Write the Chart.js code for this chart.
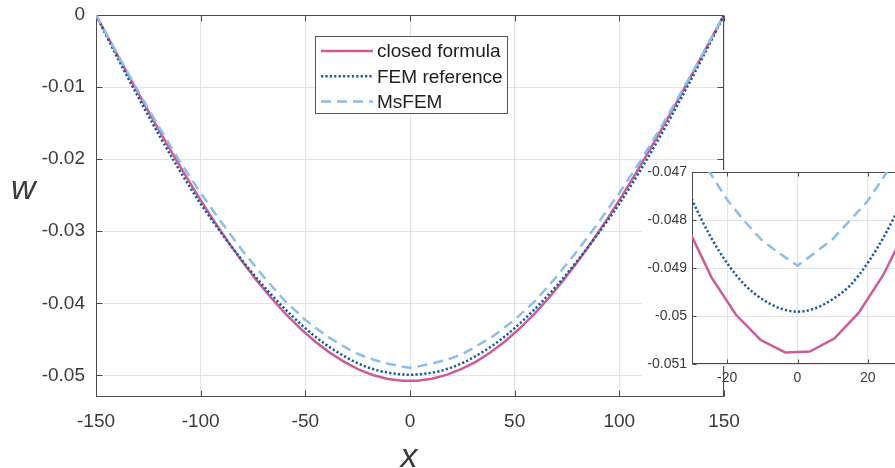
<!DOCTYPE html>
<html><head><meta charset="utf-8">
<script src="https://cdn.jsdelivr.net/npm/chart.js@4/dist/chart.umd.min.js"></script>
<style>
html,body{margin:0;padding:0;background:#fff;overflow:hidden;width:895px;height:468px;}
#wrap{position:relative;width:895px;height:468px;overflow:hidden;}
#main{position:absolute;left:0;top:0;width:895px;height:468px;}
#inset{position:absolute;left:630px;top:150px;width:300px;height:260px;}
</style></head><body>
<div id="wrap"><canvas id="main" width="895" height="468"></canvas><canvas id="inset" width="300" height="260"></canvas></div>
<script>
// ---- data ----
const seriesLabels = ['closed formula', 'FEM reference', 'MsFEM'];

const closedX = [-150, -143.02, -136.05, -129.07, -122.09, -115.12, -108.14, -101.16, -94.19, -87.21, -80.23,
  -73.26, -66.28, -59.30, -52.33, -45.35, -38.37, -31.40, -24.42, -17.44, -10.47, -3.49,
  3.49, 10.47, 17.44, 24.42, 31.40, 38.37, 45.35, 52.33, 59.30, 66.28, 73.26, 80.23, 87.21, 94.19,
  101.16, 108.14, 115.12, 122.09, 129.07, 136.05, 143.02, 150];
const closedW = [0, -0.00378, -0.00753, -0.01123, -0.01487, -0.01841, -0.02185, -0.02517, -0.02833, -0.03134, -0.03418,
  -0.03682, -0.03927, -0.04150, -0.04351, -0.04530, -0.04684, -0.04813, -0.04920, -0.04998, -0.05050, -0.05076,
  -0.05074, -0.05047, -0.04993, -0.04914, -0.04812, -0.04683, -0.04529, -0.04350, -0.04149, -0.03926, -0.03681,
  -0.03417, -0.03133, -0.02832, -0.02516, -0.02184, -0.01840, -0.01486, -0.01122, -0.00752, -0.00377, 0];

const femX = [-150, -140, -130, -120, -110, -100, -90, -80, -70, -60, -50, -40, -30, -25, -20, -15, -10, -5, 0,
  5, 10, 15, 20, 25, 30, 40, 50, 60, 70, 80, 90, 100, 110, 120, 130, 140, 150];
const femW = [0, -0.00580, -0.01130, -0.01660, -0.02160, -0.02620, -0.03030, -0.03410, -0.03760, -0.04070, -0.04347,
  -0.04577, -0.04757, -0.04831, -0.04890, -0.04935, -0.04965, -0.04984, -0.04991,
  -0.04984, -0.04965, -0.04936, -0.04889, -0.04829, -0.04755, -0.04575, -0.04345, -0.04068, -0.03758, -0.03408,
  -0.03028, -0.02618, -0.02158, -0.01658, -0.01128, -0.00578, 0];

const msfemX = [-150, -140, -130, -120, -110, -100, -90, -80, -70, -60, -50, -40, -30, -25, -20, -15, -10, -5, 0,
  5, 10, 15, 20, 25, 30, 40, 50, 60, 70, 80, 90, 100, 110, 120, 130, 140, 150];
const msfemW = [0, -0.0053, -0.0105, -0.0155, -0.0203, -0.0247, -0.0288, -0.0327, -0.0363, -0.0396, -0.0423,
  -0.0445, -0.04626, -0.04700, -0.04758, -0.04803, -0.04843, -0.04870, -0.04895,
  -0.04868, -0.04840, -0.04800, -0.04760, -0.04705, -0.04626, -0.0445, -0.0423, -0.0396, -0.0363, -0.0327,
  -0.0288, -0.0247, -0.0203, -0.0155, -0.0105, -0.0053, 0];

const mainXTicks = [-150, -100, -50, 0, 50, 100, 150];
const mainYTicks = [0, -0.01, -0.02, -0.03, -0.04, -0.05];
const insetXTicks = [-20, 0, 20];
const insetYTicks = [-0.047, -0.048, -0.049, -0.05, -0.051];

// ---- styling ----
const FONT = '"Liberation Sans", Arial, Helvetica, sans-serif';
const TXT = '#3a3a3a';
const AX = '#4a4a4a';
const GRID = '#e4e4e4';
const COLORS = ['#cd5c96', '#145aa0', '#8cbeeb'];

function pts(xs, ys) { return xs.map((x, i) => ({x: x, y: ys[i]})); }
function fmt(v) { return String(parseFloat(Number(v).toFixed(4))); }

function makeDatasets() {
  return [
    {label: seriesLabels[0], data: pts(closedX, closedW), borderColor: COLORS[0], borderWidth: 2.5,
     pointRadius: 0, tension: 0, order: 3, borderCapStyle: 'butt'},
    {label: seriesLabels[1], data: pts(femX, femW), borderColor: COLORS[1], borderWidth: 2.5,
     borderDash: [2.2, 2.2], pointRadius: 0, cubicInterpolationMode: 'monotone', order: 2, borderCapStyle: 'butt'},
    {label: seriesLabels[2], data: pts(msfemX, msfemW), borderColor: COLORS[2], borderWidth: 2.5,
     borderDash: [10, 6], pointRadius: 0, tension: 0, order: 1, borderCapStyle: 'butt'}
  ];
}

const boxPlugin = {
  id: 'box',
  beforeDraw(chart, args, o) {
    if (o.bg) {
      const ctx = chart.ctx;
      ctx.save(); ctx.fillStyle = '#fff';
      o.bg.forEach(r => ctx.fillRect(r[0], r[1], r[2], r[3]));
      ctx.restore();
    }
  },
  beforeDatasetsDraw(chart, args, o) {
    const ctx = chart.ctx, a = chart.chartArea, L = o.len || 5;
    const l = Math.round(a.left) + 0.5, r = Math.round(a.right) - 0.5;
    const t = Math.round(a.top) + 0.5, b = Math.round(a.bottom) - 0.5;
    ctx.save();
    ctx.strokeStyle = AX; ctx.lineWidth = 1;
    ctx.strokeRect(l, t, r - l, b - t);
    const xs = chart.scales.x, ys = chart.scales.y;
    ctx.beginPath();
    xs.ticks.forEach(tk => {
      const px = Math.round(xs.getPixelForValue(tk.value)) + 0.5;
      ctx.moveTo(px, b); ctx.lineTo(px, b - L);
      ctx.moveTo(px, t); ctx.lineTo(px, t + L);
    });
    ys.ticks.forEach(tk => {
      const py = Math.round(ys.getPixelForValue(tk.value)) + 0.5;
      ctx.moveTo(l, py); ctx.lineTo(l + L, py);
      ctx.moveTo(r, py); ctx.lineTo(r - L, py);
    });
    ctx.stroke();
    ctx.restore();
  }
};

const titlePlugin = {
  id: 'titles',
  afterDraw(chart) {
    const ctx = chart.ctx, a = chart.chartArea;
    ctx.save();
    ctx.fillStyle = TXT;
    ctx.font = 'italic 34px ' + FONT;
    ctx.textBaseline = 'alphabetic';
    ctx.textAlign = 'left';
    ctx.fillText('w', 11, 199);
    ctx.textAlign = 'center';
    ctx.fillText('x', (a.left + a.right) / 2 - 1, 467);
    ctx.restore();
  }
};

const legendPlugin = {
  id: 'lg',
  afterDraw(chart, args, o) {
    const ctx = chart.ctx;
    ctx.save();
    ctx.fillStyle = '#fff';
    ctx.fillRect(o.x, o.y, o.w, o.h);
    ctx.strokeStyle = '#555'; ctx.lineWidth = 1;
    ctx.strokeRect(o.x + 0.5, o.y + 0.5, o.w - 1, o.h - 1);
    chart.data.datasets.forEach((ds, i) => {
      const cy = o.y + o.first + i * o.step;
      ctx.strokeStyle = ds.borderColor; ctx.lineWidth = ds.borderWidth;
      ctx.lineCap = 'butt';
      ctx.setLineDash(ds.borderDash || []);
      ctx.beginPath(); ctx.moveTo(o.x + o.lx0, cy); ctx.lineTo(o.x + o.lx1, cy); ctx.stroke();
      ctx.setLineDash([]);
      ctx.fillStyle = '#1e1e1e';
      ctx.font = '19px ' + FONT;
      ctx.textAlign = 'left'; ctx.textBaseline = 'middle';
      ctx.fillText(ds.label, o.x + o.tx, cy + 1);
    });
    ctx.restore();
  }
};

function axisCfg(min, max, tickArr, fontSize, pad, fitFn) {
  return {
    type: 'linear', min: min, max: max,
    afterBuildTicks: s => { s.ticks = tickArr.map(v => ({value: v})); },
    afterFit: s => { fitFn(s); s.paddingTop = 0; s.paddingBottom = 0; s.paddingLeft = 0; s.paddingRight = 0; },
    grid: {color: GRID, drawTicks: false, lineWidth: 1},
    border: {display: false},
    ticks: {font: {size: fontSize, family: FONT}, color: TXT, padding: pad, maxRotation: 0,
            autoSkip: false, callback: v => fmt(v)}
  };
}

new Chart(document.getElementById('main'), {
  type: 'line',
  data: {datasets: makeDatasets()},
  options: {
    responsive: false, animation: false, devicePixelRatio: 1,
    layout: {padding: {top: 15, right: 171, left: 0, bottom: 0}, autoPadding: false},
    plugins: {
      legend: {display: false}, tooltip: {enabled: false},
      box: {len: 6},
      lg: {x: 315, y: 36, w: 193, h: 78, first: 15, step: 25.3, lx0: 6, lx1: 58, tx: 62}
    },
    scales: {
      x: axisCfg(-150, 150, mainXTicks, 19, 13, s => { s.height = 71; }),
      y: axisCfg(-0.053, 0, mainYTicks, 19, 11, s => { s.width = 96; })
    }
  },
  plugins: [boxPlugin, titlePlugin, legendPlugin]
});

new Chart(document.getElementById('inset'), {
  type: 'line',
  data: {datasets: makeDatasets()},
  options: {
    responsive: false, animation: false, devicePixelRatio: 1,
    layout: {padding: {top: 22, right: 27, left: 0, bottom: 0}, autoPadding: false},
    plugins: {
      legend: {display: false}, tooltip: {enabled: false},
      box: {len: 4, bg: [[12, 20, 288, 196], [12, 20, 81, 222]]}
    },
    scales: {
      x: axisCfg(-30, 30, insetXTicks, 14, 6, s => { s.height = 46; }),
      y: axisCfg(-0.051, -0.047, insetYTicks, 14, 5, s => { s.width = 62; })
    }
  },
  plugins: [boxPlugin]
});
</script>
</body></html>
